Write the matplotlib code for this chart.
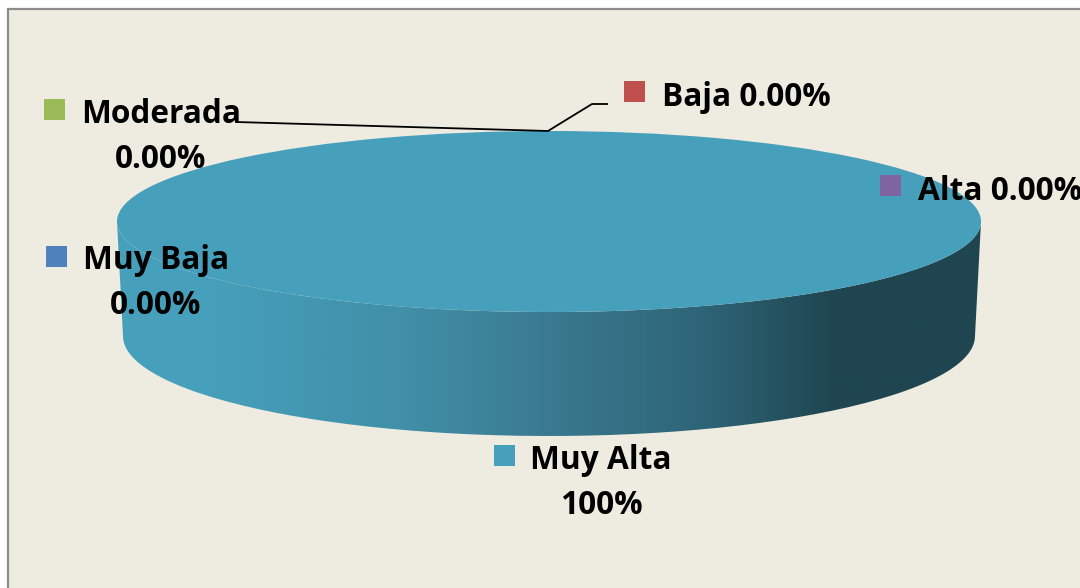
import numpy as np
import matplotlib
matplotlib.use("Agg")
import matplotlib.pyplot as plt
from matplotlib.colors import LinearSegmentedColormap
from matplotlib.patches import PathPatch, Rectangle
from matplotlib.path import Path

categories = ["Muy Baja", "Baja", "Moderada", "Alta", "Muy Alta"]
values = [0, 0, 0, 0, 100]
labels = ["Muy Baja\n0.00%", "Baja 0.00%", "Moderada\n0.00%", "Alta 0.00%", "Muy Alta\n100%"]
colors = ["#4f81bd", "#c0504d", "#9bbb59", "#8064a2", "#46a0bb"]

W, H = 1080, 588
plt.rcParams["font.family"] = "Open Sans"

fig = plt.figure(figsize=(W / 100, H / 100), dpi=100, facecolor="white")
ax = fig.add_axes([0, 0, 1, 1])
ax.set_xlim(0, W)
ax.set_ylim(H, 0)
ax.axis("off")

# background panel, runs off the right and bottom edge
ax.add_patch(Rectangle((8, 9), W, H, facecolor="#eeebe0", edgecolor="#8c8c8c", linewidth=1.6, zorder=0))

# side of the disc, a gradient clipped to the outline
t = np.linspace(np.pi, 0, 120)
top_x = 549 + 432 * np.cos(t)
top_y = 221.5 + 90.5 * np.sin(t)
bot_x = 549 + 426 * np.cos(t)
bot_y = 336 + 100 * np.sin(t)
verts = np.concatenate([np.column_stack([top_x, top_y]), np.column_stack([bot_x, bot_y])[::-1]])
verts = np.vstack([verts, verts[0]])
side = PathPatch(Path(verts), facecolor="none", edgecolor="none", transform=ax.transData)
ax.add_patch(side)

cmap = LinearSegmentedColormap.from_list(
    "side",
    [(0.0, "#46a0bb"), (0.1, "#46a0bb"), (0.33, "#418fa8"), (0.5, "#3a7a90"),
     (0.68, "#2e6478"), (0.83, "#1f4650"), (1.0, "#1f4650")],
)
grad = np.linspace(0, 1, 400).reshape(1, -1)
im = ax.imshow(grad, cmap=cmap, extent=(117, 981, 440, 200), aspect="auto", zorder=1)
im.set_clip_path(side)
ax.set_xlim(0, W)
ax.set_ylim(H, 0)

# top of the disc
pie_ax = fig.add_axes([117 / W, 1 - 312 / H, 864 / W, 181 / H])
pie_ax.pie(values, colors=colors, radius=1, startangle=90, wedgeprops={"linewidth": 0})
pie_ax.set_aspect("auto")
pie_ax.set_xlim(-1, 1)
pie_ax.set_ylim(-1, 1)
pie_ax.patch.set_visible(False)

# labels go on their own axes so they sit over the disc
top = fig.add_axes([0, 0, 1, 1])
top.set_xlim(0, W)
top.set_ylim(H, 0)
top.axis("off")

marker_pos = [(46, 246), (624, 81), (44, 99), (880, 175), (494, 445)]
label_pos = [(156, 283, "center"), (662, 93, "left"), (161, 137, "center"), (918, 187, "left"), (601, 483, "center")]

for c, (mx, my), (lx, ly, ha), lab in zip(colors, marker_pos, label_pos, labels):
    top.add_patch(Rectangle((mx, my), 21, 21, facecolor=c, edgecolor="none"))
    top.text(lx, ly, lab, ha=ha, va="center_baseline" if "\n" not in lab else "center",
             multialignment="center", fontsize=22.8, fontweight="bold",
             color="black", linespacing=1.5, clip_on=True)

# leader line for Moderada / Baja
top.plot([236, 548, 592, 608], [122, 131, 104, 104], color="black", linewidth=1.3, solid_capstyle="butt")

fig.savefig("out.png", dpi=100)
